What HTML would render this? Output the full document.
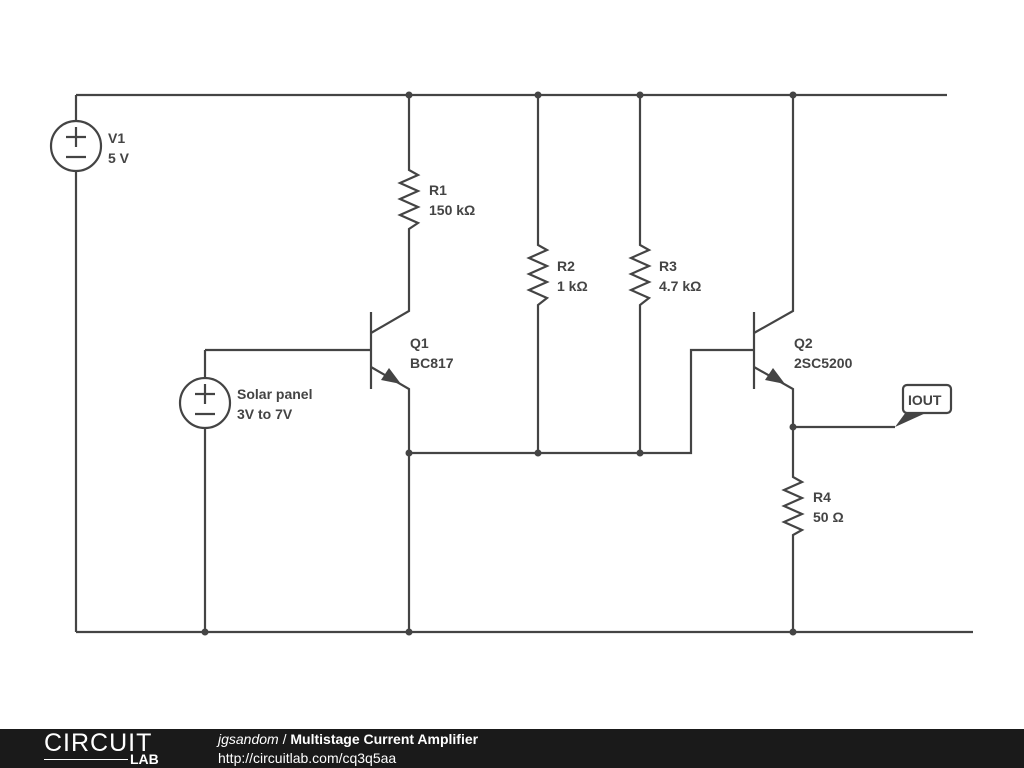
<!DOCTYPE html>
<html><head><meta charset="utf-8"><style>
body{margin:0;width:1024px;height:768px;background:#fff;overflow:hidden;font-family:"Liberation Sans",sans-serif}
svg{position:absolute;left:0;top:0}
.f{position:absolute;left:0;top:729px;width:1024px;height:39px;background:#1a1a1a;color:#fff}
</style></head><body>
<svg width="1024" height="730" viewBox="0 0 1024 730">
<g stroke="#444" stroke-width="2.2" fill="none" stroke-linejoin="miter">
<path d="M76 95H947M76 632H973M76 95V121M76 171V632"/>
<circle cx="76" cy="146" r="25"/>
<path d="M66 137H86M76 127V147M66 157H86"/>
<circle cx="205" cy="403" r="25"/>
<path d="M195 394H215M205 384V404M195 414H215M205 350V378M205 428V632M205 350H371"/>
<path d="M409 95V170L418 175L400 183L418 191L400 199L418 207L400 215L418 223L409 229V311L371 333M371 312V389M371 367L409 389V632"/>
<path d="M538 95V245L547 250L529 258L547 266L529 274L547 282L529 290L547 298L538 305V453"/>
<path d="M640 95V245L649 250L631 258L649 266L631 274L649 282L631 290L649 298L640 305V453"/>
<path d="M409 453H691V350H754M754 312V389M793 95V311L754 333M754 367L793 389V477L802 482L784 490L802 498L784 506L802 514L784 522L802 530L793 535V632M793 427H895"/>
<rect x="903" y="385" width="48" height="28" rx="4"/>
</g>
<path d="M401 384L381 380L389 368Z" fill="#444"/>
<path d="M785 384L765 380L773 368Z" fill="#444"/>
<path d="M895 427L906 412L928 412Z" fill="#444"/>
<g fill="#444">
<circle cx="409" cy="95" r="3.5"/><circle cx="538" cy="95" r="3.5"/><circle cx="640" cy="95" r="3.5"/><circle cx="793" cy="95" r="3.5"/>
<circle cx="409" cy="453" r="3.5"/><circle cx="538" cy="453" r="3.5"/><circle cx="640" cy="453" r="3.5"/><circle cx="793" cy="427" r="3.5"/>
<circle cx="205" cy="632" r="3.5"/><circle cx="409" cy="632" r="3.5"/><circle cx="793" cy="632" r="3.5"/>
</g>
<g fill="#444" font-family="Liberation Sans,sans-serif" font-size="14" font-weight="bold">
<text x="108" y="143">V1</text><text x="108" y="163">5 V</text>
<text x="429" y="195">R1</text><text x="429" y="215">150 kΩ</text>
<text x="557" y="271">R2</text><text x="557" y="291">1 kΩ</text>
<text x="659" y="271">R3</text><text x="659" y="291">4.7 kΩ</text>
<text x="410" y="348">Q1</text><text x="410" y="368">BC817</text>
<text x="794" y="348">Q2</text><text x="794" y="368">2SC5200</text>
<text x="237" y="399">Solar panel</text><text x="237" y="419">3V to 7V</text>
<text x="813" y="502">R4</text><text x="813" y="522">50 Ω</text>
<text x="908" y="405">IOUT</text>
</g>
</svg>
<div class="f">
<div style="position:absolute;left:44px;top:0;font-size:25px;letter-spacing:1px;font-weight:300">CIRCUIT</div>
<div style="position:absolute;left:130px;top:22px;font-size:14px;font-weight:bold">LAB</div>
<div style="position:absolute;left:44px;top:30px;width:84px;height:1px;background:#fff"></div>
<div style="position:absolute;left:218px;top:2px;font-size:14px"><i>jgsandom</i> / <b>Multistage Current Amplifier</b></div>
<div style="position:absolute;left:218px;top:21px;font-size:14px">http://circuitlab.com/cq3q5aa</div>
</div>
</body></html>
